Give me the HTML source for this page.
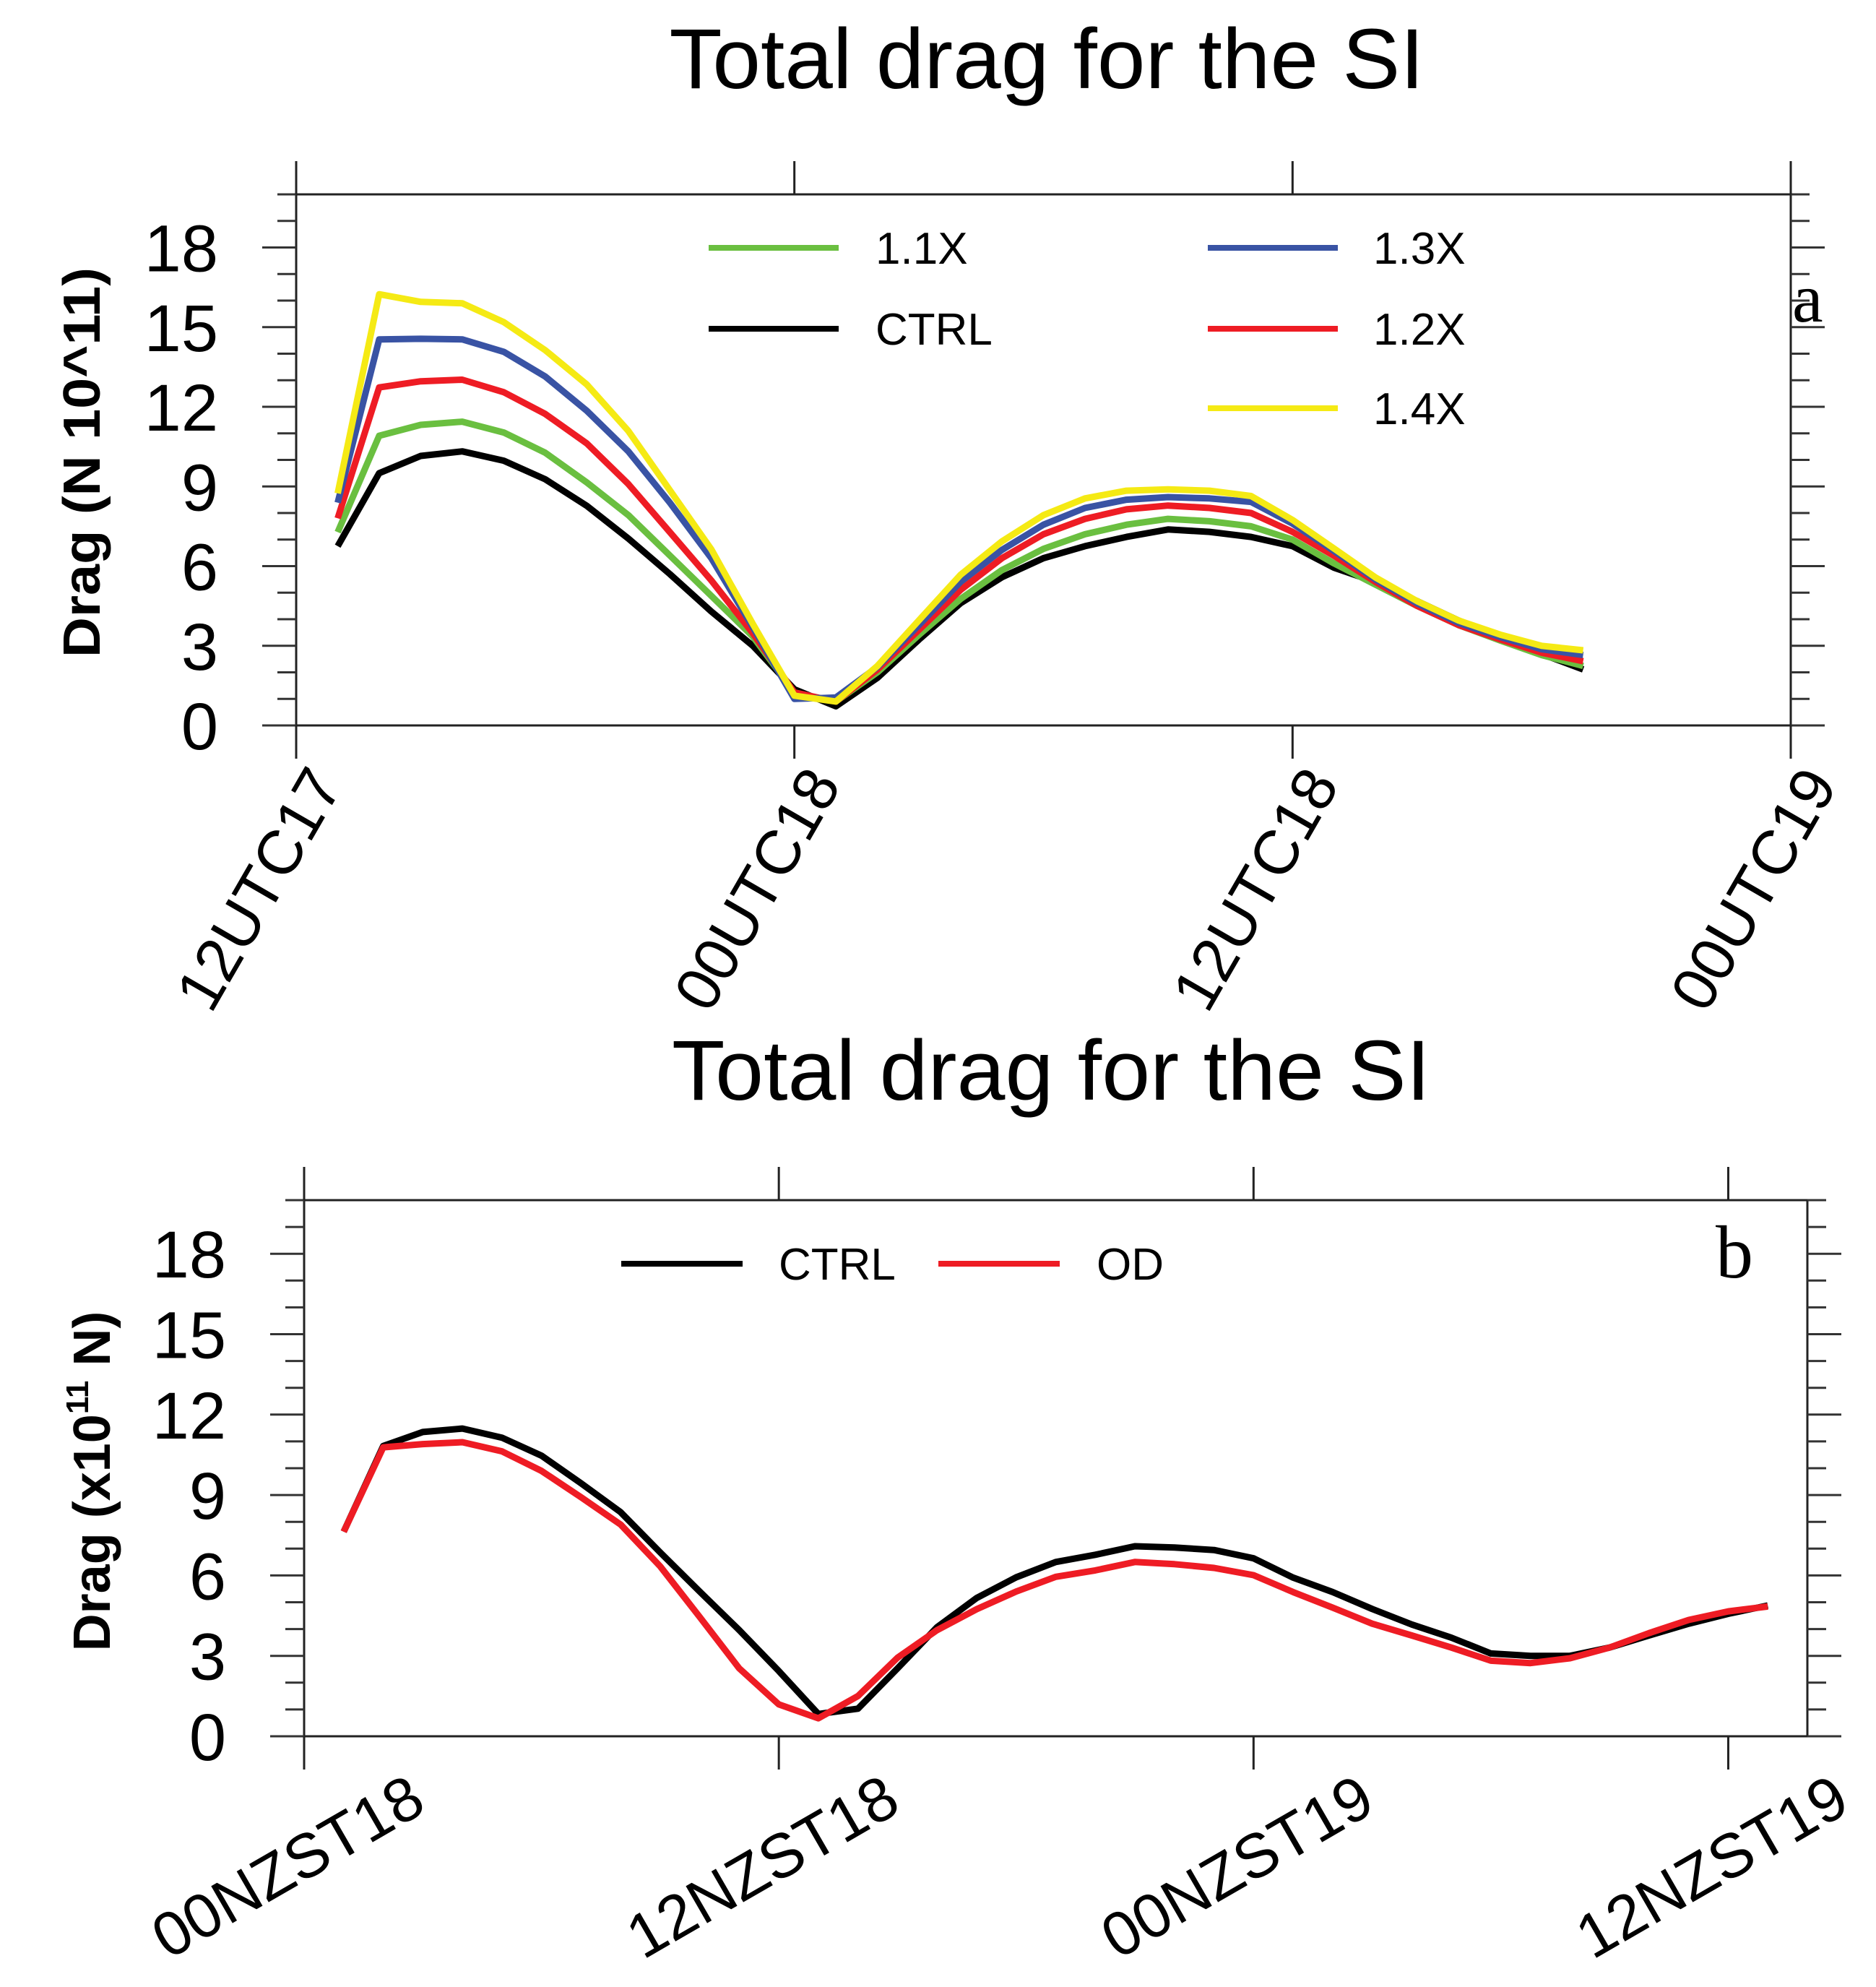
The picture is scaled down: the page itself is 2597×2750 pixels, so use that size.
<!DOCTYPE html>
<html><head><meta charset="utf-8"><style>
html,body{margin:0;padding:0;background:#fff;}
svg{display:block;font-family:"Liberation Sans",sans-serif;}
</style></head><body>
<svg id="chart" width="2597" height="2750" viewBox="0 0 2597 2750" xmlns="http://www.w3.org/2000/svg">
<rect width="2597" height="2750" fill="#fff"/>
<g id="pa"></g>
<g id="pb"></g>
</svg>
<script>
// Panel a data (hours after 12UTC17)
const hoursA = [1,2,3,4,5,6,7,8,9,10,11,12,13,14,15,16,17,18,19,20,21,22,23,24,25,26,27,28,29,30,31];
const ctrlA = [6.75,9.5,10.15,10.32,9.97,9.27,8.27,7.04,5.7,4.29,3.0,1.36,0.72,1.79,3.23,4.6,5.58,6.3,6.75,7.1,7.38,7.29,7.1,6.75,5.94,5.4,4.68,3.95,3.33,2.69,2.11];
const x11A = [7.28,10.91,11.32,11.44,11.03,10.27,9.15,7.92,6.4,4.88,3.35,1.24,0.9,2.0,3.41,4.76,5.85,6.65,7.2,7.56,7.78,7.69,7.5,7.0,6.1,5.3,4.5,3.78,3.2,2.65,2.24];
const x12A = [7.8,12.73,12.96,13.02,12.55,11.73,10.62,9.09,7.28,5.46,3.47,1.24,0.9,2.1,3.6,5.1,6.3,7.2,7.78,8.14,8.28,8.19,8.0,7.29,6.39,5.4,4.5,3.78,3.24,2.74,2.42];
const x13A = [8.39,14.54,14.56,14.54,14.07,13.14,11.85,10.32,8.39,6.3,3.7,1.0,1.05,2.2,3.78,5.4,6.61,7.56,8.19,8.5,8.6,8.55,8.42,7.6,6.57,5.49,4.6,3.86,3.33,2.87,2.65];
const x14A = [8.74,16.24,15.95,15.9,15.19,14.13,12.84,11.09,8.86,6.63,3.82,1.12,0.9,2.24,3.96,5.67,6.93,7.92,8.55,8.84,8.89,8.84,8.64,7.74,6.66,5.57,4.68,3.95,3.42,3.0,2.83];
const xTicksA = [0,12,24,36];
const xLabelsA = ["12UTC17","00UTC18","12UTC18","00UTC19"];
// Panel b data (hours after 00NZST18)
const hoursB = [1,2,3,4,5,6,7,8,9,10,11,12,13,14,15,16,17,18,19,20,21,22,23,24,25,26,27,28,29,30,31,32,33,34,35,36,37];
const ctrlB = [7.63,10.83,11.35,11.48,11.14,10.47,9.44,8.36,6.86,5.4,3.96,2.43,0.83,1.03,2.53,4.07,5.16,5.93,6.5,6.77,7.09,7.04,6.95,6.64,5.92,5.38,4.75,4.17,3.68,3.09,3.0,3.0,3.31,3.76,4.2,4.57,4.88];
const odB = [7.63,10.78,10.9,10.97,10.63,9.9,8.92,7.9,6.34,4.45,2.53,1.19,0.67,1.5,2.93,3.96,4.74,5.4,5.95,6.19,6.5,6.42,6.28,6.01,5.38,4.8,4.2,3.76,3.31,2.82,2.73,2.91,3.31,3.85,4.34,4.66,4.84];
const xTicksB = [0,12,24,36];
const xLabelsB = ["00NZST18","12NZST18","00NZST19","12NZST19"];
const yMajor = [0,3,6,9,12,15,18];
const yMinor = [0,1,2,3,4,5,6,7,8,9,10,11,12,13,14,15,16,17,18,19,20];

const NS="http://www.w3.org/2000/svg";
function mk(parent,tag,attrs){const e=document.createElementNS(NS,tag);for(const k in attrs)e.setAttribute(k,attrs[k]);parent.appendChild(e);return e;}

function panel(g,cfg){
  const X=v=>cfg.left+(v-cfg.x0)/(cfg.x1-cfg.x0)*(cfg.right-cfg.left);
  const Y=v=>cfg.y0px-(v/20)*(cfg.y0px-cfg.top);
  const t=mk(g,'text',{x:cfg.titleX,y:cfg.titleY,'font-size':118,'text-anchor':'middle',textLength:cfg.titleLen,lengthAdjust:'spacingAndGlyphs',fill:'#000'});
  
  
  t.textContent='Total drag for the SI';
  const fr=mk(g,'rect',{x:cfg.left,y:cfg.top,width:cfg.right-cfg.left,height:cfg.y0px-cfg.top,fill:'none',stroke:'#222','stroke-width':3});
  
  
  yMinor.forEach(v=>{
    const maj=yMajor.includes(v);const L=maj?47:26;
    const a=mk(g,'line',{x1:cfg.left-L,x2:cfg.left,y1:Y(v),y2:Y(v),stroke:'#333','stroke-width':3});
    
    
    const b=mk(g,'line',{x1:cfg.right,x2:cfg.right+L,y1:Y(v),y2:Y(v),stroke:'#333','stroke-width':3});
    
    
  });
  yMajor.forEach(v=>{
    const tl=mk(g,'text',{x:cfg.left-108,y:Y(v)+33,'font-size':92,'text-anchor':'end',fill:'#000'});
    
    
    tl.textContent=String(v);
  });
  cfg.xt.forEach((v,i)=>{
    const a=mk(g,'line',{x1:X(v),x2:X(v),y1:cfg.y0px,y2:cfg.y0px+46,stroke:'#222','stroke-width':3});
    
    
    const b=mk(g,'line',{x1:X(v),x2:X(v),y1:cfg.top-46,y2:cfg.top,stroke:'#222','stroke-width':3});
    
    
    const ax=X(v)+cfg.lblDx, ay=cfg.y0px+cfg.lblDy;
    const tl=mk(g,'text',{x:ax,y:ay,'font-size':86,'text-anchor':'end',transform:`rotate(${cfg.rot} ${ax} ${ay})`,fill:'#000'});
    
    
    tl.textContent=cfg.xl[i];
  });
  cfg.series.forEach(s=>{
    const pts=cfg.hours.map((h,i)=>X(h).toFixed(1)+','+Y(s.v[i]).toFixed(1)).join(' ');
    const p=mk(g,'polyline',{points:pts,fill:'none',stroke:s.c,'stroke-width':9,'stroke-linejoin':'round'});
    
    
  });
  cfg.legend.forEach(l=>{
    const ln=mk(g,'line',{x1:l.x,x2:l.x+l.w,y1:l.y,y2:l.y,stroke:l.c,'stroke-width':8});
    
    
    const tx=mk(g,'text',{x:l.tx,y:l.y+22,'font-size':62,fill:'#000'});
    
    
    tx.textContent=l.t;
  });
}

panel(document.getElementById('pa'),{
  left:410,right:2479,top:269,y0px:1004,x0:0,x1:36,xt:xTicksA,xl:xLabelsA,
  titleX:1449,titleY:122,titleLen:1045,rot:-60,lblDx:66,lblDy:82,hours:hoursA,
  series:[{name:'series-ctrl',c:'#000',v:ctrlA},{name:'series-1.1x',c:'#6abf40',v:x11A},{name:'series-1.2x',c:'#ee1c24',v:x12A},{name:'series-1.3x',c:'#3953a4',v:x13A},{name:'series-1.4x',c:'#f5ea14',v:x14A}],
  legend:[{x:981,w:180,y:343,c:'#6abf40',t:'1.1X',tx:1212},{x:1672,w:180,y:343,c:'#3953a4',t:'1.3X',tx:1901},
          {x:981,w:180,y:455,c:'#000',t:'CTRL',tx:1212},{x:1672,w:180,y:455,c:'#ee1c24',t:'1.2X',tx:1901},
          {x:1672,w:180,y:565,c:'#f5ea14',t:'1.4X',tx:1901}]
});
panel(document.getElementById('pb'),{
  left:421,right:2502,top:1661,y0px:2403,x0:0,x1:38,xt:xTicksB,xl:xLabelsB,
  titleX:1455,titleY:1522,titleLen:1050,rot:-30,lblDx:172,lblDy:102,hours:hoursB,
  series:[{name:'series-ctrl',c:'#000',v:ctrlB},{name:'series-od',c:'#ee1c24',v:odB}],
  legend:[{x:860,w:168,y:1749,c:'#000',t:'CTRL',tx:1078},{x:1299,w:168,y:1749,c:'#ee1c24',t:'OD',tx:1518}]
});
</script>
<svg style="position:absolute;left:0;top:0" width="2597" height="2750">
<text x="0" y="0" transform="translate(138 640) rotate(-90)" text-anchor="middle" font-family="Liberation Sans,sans-serif" font-weight="bold" font-size="72" textLength="540" lengthAdjust="spacingAndGlyphs">Drag (N 10^11)</text>
<text x="0" y="0" transform="translate(152 2050) rotate(-90)" text-anchor="middle" font-family="Liberation Sans,sans-serif" font-weight="bold" font-size="72">Drag (x10<tspan font-size="44" dy="-30">11</tspan><tspan dy="30"> N)</tspan></text>
<text x="2481" y="445" font-family="Liberation Serif,serif" font-size="96">a</text>
<text x="2375" y="1768" font-family="Liberation Serif,serif" font-size="104">b</text>
</svg>
</body></html>
